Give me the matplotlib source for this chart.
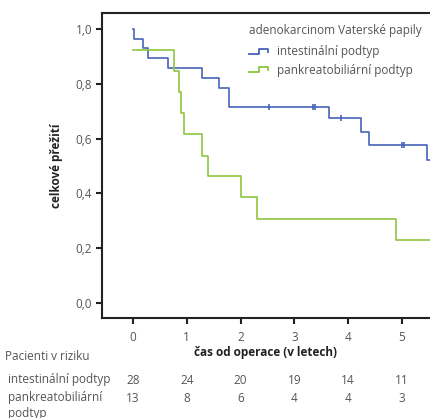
import matplotlib
matplotlib.use("Agg")
import matplotlib.pyplot as plt
from matplotlib.lines import Line2D
from matplotlib.legend_handler import HandlerBase
from matplotlib.transforms import blended_transform_factory

plt.rcParams.update({
    'font.family': ['Open Sans', 'DejaVu Sans'],
    'font.size': 8.5,
})

GRAY = '#555555'
BLUE = '#4563b9'
GREEN = '#8dc63f'

# Kaplan-Meier steps
int_times = [0, 0.02, 0.18, 0.285, 0.655, 1.28, 1.6, 1.79, 3.65, 4.24, 4.38, 5.46, 5.6]
int_surv = [1.0, 0.964, 0.929, 0.893, 0.857, 0.821, 0.786, 0.714, 0.675, 0.623, 0.577, 0.52, 0.52]
int_cens_t = [2.53, 3.35, 3.39, 3.86, 5.0, 5.04]
int_cens_s = [0.714, 0.714, 0.714, 0.675, 0.577, 0.577]

pan_times = [0, 0.755, 0.85, 0.90, 0.95, 1.28, 1.39, 2.0, 2.3, 4.89, 5.6]
pan_surv = [0.923, 0.846, 0.769, 0.692, 0.615, 0.538, 0.462, 0.385, 0.308, 0.231, 0.231]

x_ticks = [0, 1, 2, 3, 4, 5]
y_ticks = [0.0, 0.2, 0.4, 0.6, 0.8, 1.0]
risk_int = [28, 24, 20, 19, 14, 11]
risk_pan = [13, 8, 6, 4, 4, 3]


class StepHandler(HandlerBase):
    def create_artists(self, legend, orig_handle, xdescent, ydescent,
                       width, height, fontsize, trans):
        x0, w, h = -xdescent, width, height
        y0 = -ydescent
        xs = [x0, x0 + w * 0.55, x0 + w * 0.55, x0 + w, x0 + w]
        ys = [y0 + h * 0.2, y0 + h * 0.2, y0 + h * 0.75, y0 + h * 0.75, y0 + h * 0.4]
        line = Line2D(xs, ys, color=orig_handle.get_color(), lw=1.3,
                      transform=trans)
        return [line]


fig = plt.figure(figsize=(4.3, 4.18), dpi=100)
ax = fig.add_axes([0.237, 0.239, 0.763, 0.730])

ax.step(int_times, int_surv, where='post', color=BLUE, lw=1.2)
ax.plot(int_cens_t, int_cens_s, ls='none', marker='|', ms=4, mew=1.2, color=BLUE)
ax.step(pan_times, pan_surv, where='post', color=GREEN, lw=1.2)

ax.set_xlim(-0.575, 5.52)
ax.set_ylim(-0.055, 1.058)
ax.set_xticks(x_ticks)
ax.set_xticklabels([str(t) for t in x_ticks])
ax.set_yticks(y_ticks)
ax.set_yticklabels([f'{v:.1f}'.replace('.', ',') for v in y_ticks])
ax.tick_params(direction='out', length=4, width=1.5, color='#222222',
               labelcolor=GRAY, labelsize=8.5, pad=3)
ax.tick_params(axis='x', pad=5)

ax.spines['right'].set_visible(False)
for s in ['left', 'bottom', 'top']:
    ax.spines[s].set_linewidth(1.5)
    ax.spines[s].set_color('#222222')

ax.set_ylabel('celkové přežití', fontweight='bold', fontsize=8.5, color='#222222')
ax.yaxis.set_label_coords(-0.12, 0.5)
ax.set_xlabel('čas od operace (v letech)', fontweight='bold', fontsize=8.5,
              color='#222222')
ax.xaxis.set_label_coords(0.5, -0.092)

h1 = Line2D([], [], color=BLUE)
h2 = Line2D([], [], color=GREEN)
leg = fig.legend([h1, h2], ['intestinální podtyp', 'pankreatobiliární podtyp'],
                 title='adenokarcinom Vaterské papily', loc='upper left',
                 bbox_to_anchor=(0.565, 0.957), frameon=False, alignment='left',
                 handler_map={Line2D: StepHandler()}, handlelength=1.6,
                 handletextpad=0.8, labelspacing=0.45, borderpad=0, fontsize=8.5,
                 title_fontsize=8.5)
leg._legend_box.sep = 6
for t in leg.get_texts():
    t.set_color(GRAY)
leg.get_title().set_color(GRAY)

# risk table
tr = blended_transform_factory(ax.transData, fig.transFigure)
fig.text(0.012, 1 - 357 / 418, 'Pacienti v riziku', color=GRAY, fontsize=8.5, va='center')
fig.text(0.018, 1 - 380 / 418, 'intestinální podtyp', color=GRAY, fontsize=8.5, va='center')
fig.text(0.018, 1 - 398 / 418, 'pankreatobiliární', color=GRAY, fontsize=8.5, va='center')
fig.text(0.018, 1 - 413 / 418, 'podtyp', color=GRAY, fontsize=8.5, va='center')
for t, a, b in zip(x_ticks, risk_int, risk_pan):
    ax.text(t, 1 - 380 / 418, str(a), transform=tr, ha='center', va='center',
            color=GRAY, fontsize=8.5, clip_on=False)
    ax.text(t, 1 - 398 / 418, str(b), transform=tr, ha='center', va='center',
            color=GRAY, fontsize=8.5, clip_on=False)

fig.savefig('out.png', dpi=100)
